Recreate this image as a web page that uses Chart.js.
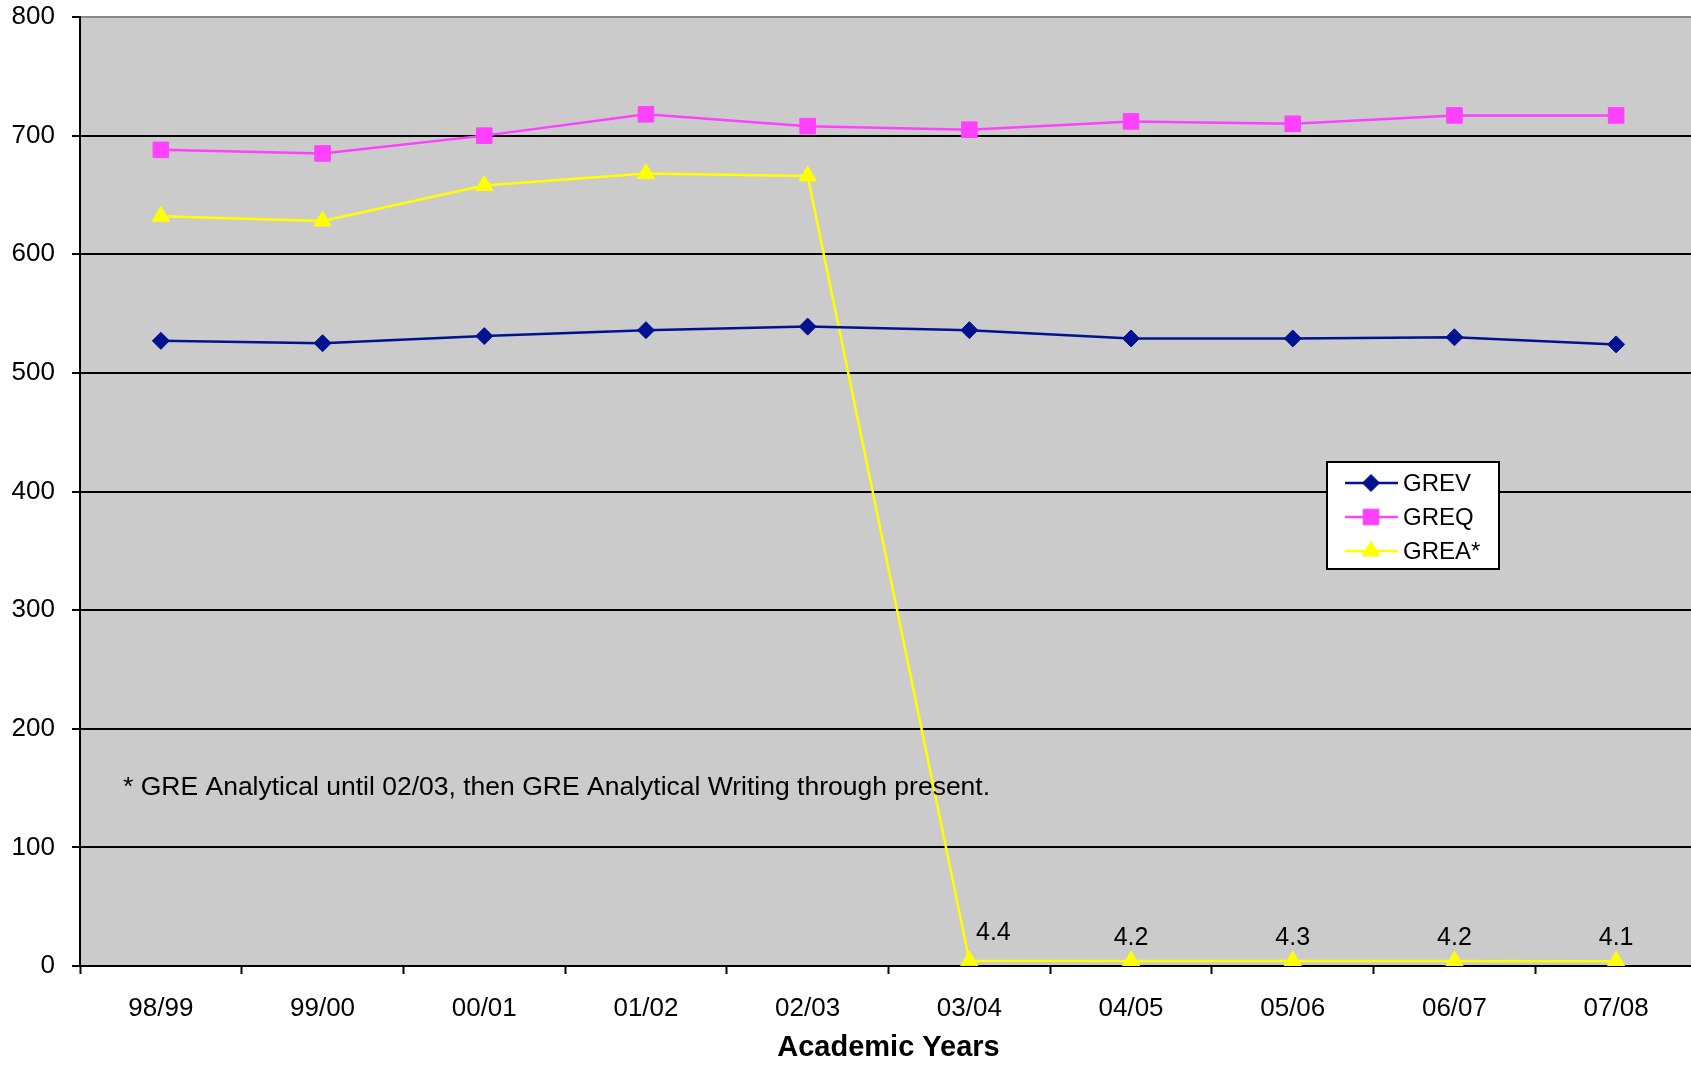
<!DOCTYPE html>
<html>
<head>
<meta charset="utf-8">
<title>GRE scores by academic year</title>
<script src="https://cdn.jsdelivr.net/npm/chart.js@4.4.1/dist/chart.umd.min.js"></script>
<style>
  html, body { margin: 0; padding: 0; background: #fff; overflow: hidden; }
  #greChart { display: block; }
</style>
</head>
<body>
<canvas id="greChart" width="1709" height="1065"></canvas>
<script>
const years = ["98/99", "99/00", "00/01", "01/02", "02/03", "03/04", "04/05", "05/06", "06/07", "07/08"];
const grev = [527, 525, 531, 536, 539, 536, 529, 529, 530, 524];
const greq = [688, 685, 700, 718, 708, 705, 712, 710, 717, 717];
const grea = [632, 628, 658, 668, 666, 4.4, 4.2, 4.3, 4.2, 4.1];
const writingFrom = 5; // GREA points from here on are Analytical Writing scores, shown with labels
const yMax = 800;
const yStep = 100;
const note = "* GRE Analytical until 02/03, then GRE Analytical Writing through present.";

const FONT = "'Liberation Sans', Arial, sans-serif";

// grey plot area like the old Excel default
const plotBackground = {
  id: "plotBackground",
  beforeDraw(chart) {
    const { ctx, chartArea } = chart;
    ctx.save();
    ctx.fillStyle = "#cbcbcb";
    ctx.fillRect(chartArea.left, chartArea.top, chartArea.right - chartArea.left, chartArea.bottom - chartArea.top);
    ctx.restore();
  }
};

const greExtras = {
  id: "greExtras",
  afterDatasetsDraw(chart) {
    const { ctx, chartArea } = chart;
    ctx.save();

    // value labels on the writing scores
    const meta = chart.getDatasetMeta(2);
    ctx.font = "25px " + FONT;
    ctx.fillStyle = "#000";
    ctx.textAlign = "center";
    ctx.textBaseline = "middle";
    meta.data.forEach((pt, i) => {
      if (i < writingFrom) return;
      let dx = 0, dy = -23;
      if (i === writingFrom) { dx = 24; dy = -28; }
      ctx.fillText(String(grea[i]), pt.x + dx, pt.y + dy);
    });

    // footnote
    ctx.font = "26.5px " + FONT;
    ctx.textAlign = "left";
    ctx.fillText(note, chartArea.left + 43, 788);
    ctx.restore();
  },
  afterDraw(chart) {
    const { ctx } = chart;
    const box = { x: 1327, y: 462, w: 172, h: 107 };
    ctx.save();
    ctx.fillStyle = "#fff";
    ctx.fillRect(box.x, box.y, box.w, box.h);
    ctx.strokeStyle = "#000";
    ctx.lineWidth = 2;
    ctx.strokeRect(box.x, box.y, box.w, box.h);

    ctx.font = "24px " + FONT;
    ctx.textAlign = "left";
    ctx.textBaseline = "middle";
    chart.data.datasets.forEach((ds, i) => {
      const y = box.y + 21 + i * 34;
      ctx.strokeStyle = ds.borderColor;
      ctx.lineWidth = ds.borderWidth;
      ctx.beginPath();
      ctx.moveTo(box.x + 18, y);
      ctx.lineTo(box.x + 71, y);
      ctx.stroke();
      ctx.fillStyle = ds.pointBackgroundColor;
      ctx.strokeStyle = ds.pointBorderColor;
      ctx.lineWidth = 1;
      Chart.helpers.drawPoint(ctx, { pointStyle: ds.pointStyle, radius: ds.pointRadius, rotation: 0, borderWidth: 1 }, box.x + 44, y);
      ctx.fillStyle = "#000";
      ctx.fillText(ds.label, box.x + 76, y + 1);
    });
    ctx.restore();
  }
};

new Chart(document.getElementById("greChart"), {
  type: "line",
  data: {
    labels: years,
    datasets: [
      {
        label: "GREV",
        data: grev,
        borderColor: "#001290",
        backgroundColor: "#001290",
        borderWidth: 2.5,
        pointStyle: "rectRot",
        pointRadius: 8.5,
        pointBackgroundColor: "#001290",
        pointBorderColor: "#001290",
        pointBorderWidth: 1
      },
      {
        label: "GREQ",
        data: greq,
        borderColor: "#ff40ff",
        backgroundColor: "#ff40ff",
        borderWidth: 2.5,
        pointStyle: "rect",
        pointRadius: 11,
        pointBackgroundColor: "#ff40ff",
        pointBorderColor: "#ff40ff",
        pointBorderWidth: 1
      },
      {
        label: "GREA*",
        data: grea,
        borderColor: "#ffff00",
        backgroundColor: "#ffff00",
        borderWidth: 2.5,
        pointStyle: "triangle",
        pointRadius: 10,
        pointBackgroundColor: "#ffff00",
        pointBorderColor: "#ffff00",
        pointBorderWidth: 1
      }
    ]
  },
  options: {
    responsive: false,
    animation: false,
    layout: { padding: { top: 17, right: 0, bottom: 0, left: 0 } },
    plugins: {
      legend: { display: false },
      tooltip: { enabled: false }
    },
    elements: { line: { tension: 0 } },
    scales: {
      x: {
        offset: true,
        grid: { display: true, drawOnChartArea: false, drawTicks: true, tickLength: 8, tickColor: "#000", tickWidth: 2, offset: true },
        border: { color: "#000", width: 2 },
        ticks: { color: "#000", font: { size: 26, family: FONT }, padding: 19, maxRotation: 0, autoSkip: false },
        title: { display: true, text: "Academic Years", color: "#000", font: { size: 29, weight: "bold", family: FONT }, padding: { top: 0, bottom: 0 } },
        afterFit(scale) {
          scale.height = 99;
          scale.paddingLeft = 0;
          scale.paddingRight = 0;
        }
      },
      y: {
        min: 0,
        max: yMax,
        grid: {
          color: (ctx) => (ctx.tick && ctx.tick.value === yMax ? "#8a8a8a" : "#000"),
          lineWidth: 2,
          tickLength: 8,
          tickColor: "#000",
          tickWidth: 2
        },
        border: { color: "#000", width: 2 },
        ticks: { stepSize: yStep, color: "#000", font: { size: 26, family: FONT }, padding: 17 },
        afterFit(scale) {
          scale.width = 80;
          scale.paddingTop = 0;
          scale.paddingBottom = 0;
        }
      }
    }
  },
  plugins: [plotBackground, greExtras]
});
</script>
</body>
</html>
